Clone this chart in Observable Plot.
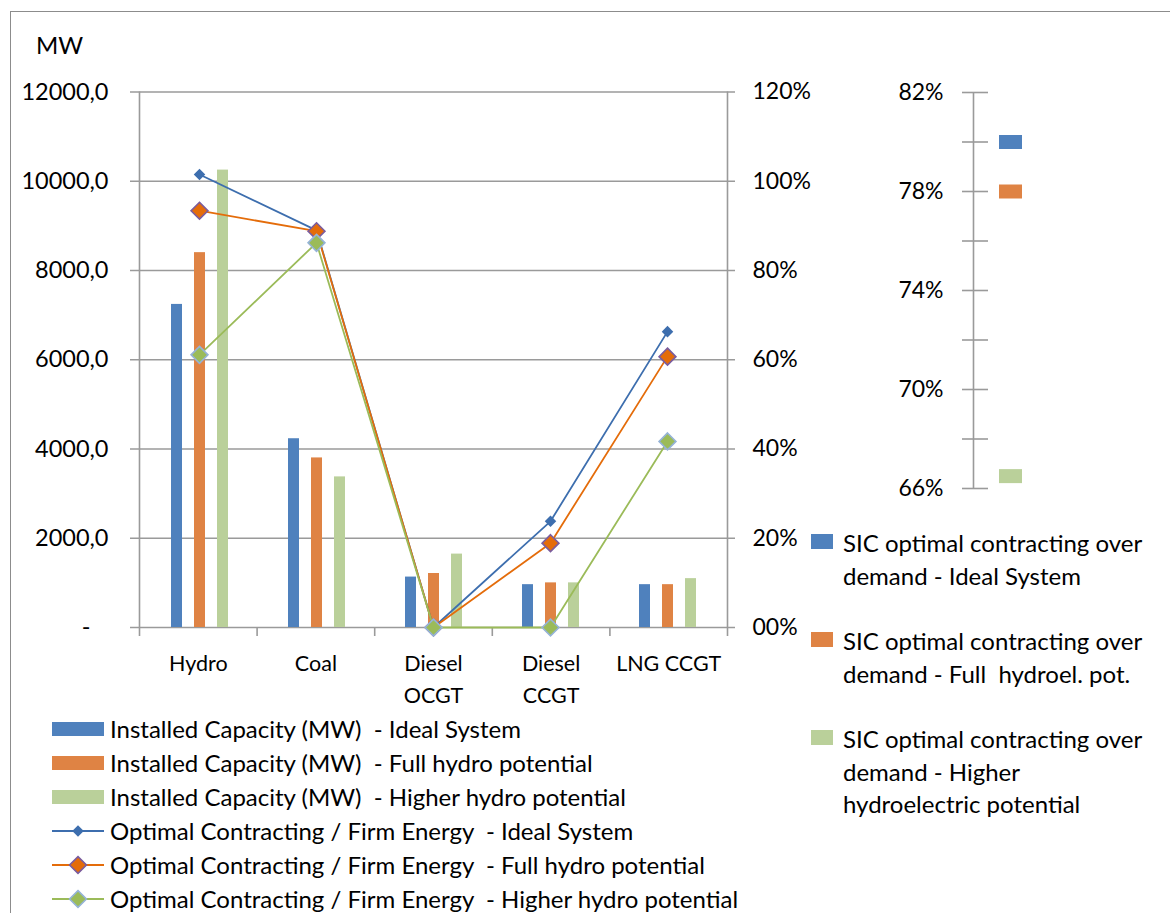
<!DOCTYPE html>
<html>
<head>
<meta charset="utf-8">
<script src="https://cdn.jsdelivr.net/npm/d3@7"></script>
<script src="https://cdn.jsdelivr.net/npm/@observablehq/plot@0.6"></script>
<style>
  body { margin: 0; background: #fff; }
  #chart { position: relative; width: 1170px; height: 913px; overflow: hidden; font-family: Lato, "Open Sans", sans-serif; color: #000; background: #fff; }
  #chart svg.layer { position: absolute; left: 0; top: 0; }
  .border { position: absolute; left: 10px; top: 11px; width: 1200px; height: 1000px; border-left: 1.5px solid #8c8c8c; border-top: 1.5px solid #8c8c8c; }
  .unit { position: absolute; left: 36px; top: 30px; font-size: 24px; }
  .legend { position: absolute; font-size: 24px; line-height: 34px; }
  .legend .row { display: flex; align-items: center; height: 34px; white-space: pre; }
  .legend svg { flex: none; margin-right: 6px; }
  .side { position: absolute; left: 811px; font-size: 24px; line-height: 32.5px; }
  .side .sw { position: absolute; left: 0; top: 7px; width: 22px; height: 15px; }
  .side .tx { position: absolute; left: 32px; top: 0; width: 340px; white-space: pre; }
</style>
</head>
<body>
<div id="chart">
  <div class="border"></div>
  <div class="unit">MW</div>
</div>
<script>
// Generation technologies (x categories)
const categories = ["Hydro", "Coal", "Diesel\nOCGT", "Diesel\nCCGT", "LNG CCGT"];
const scenarios = ["Ideal System", "Full hydro potential", "Higher hydro potential"];

// Installed capacity, MW
const capacityIdeal  = [7240, 4230, 1130, 960, 960];
const capacityFull   = [8400, 3800, 1210, 1000, 960];
const capacityHigher = [10250, 3375, 1645, 1000, 1095];

// Optimal contracting / firm energy ratio
const contractIdeal  = [1.015, 0.89, 0, 0.238, 0.663];
const contractFull   = [0.934, 0.888, 0, 0.189, 0.607];
const contractHigher = [0.611, 0.862, 0, 0, 0.417];

// SIC optimal contracting over demand
const sicLabels = ["Ideal System", "Full  hydroel. pot.", "Higher\nhydroelectric potential"];
const sicValues = [0.80, 0.78, 0.665];

// Axis ticks
const mwTicks = [0, 2000, 4000, 6000, 8000, 10000, 12000];
const pctTicks = [0, 0.2, 0.4, 0.6, 0.8, 1.0, 1.2];
const sicTicks = [0.66, 0.68, 0.70, 0.72, 0.74, 0.76, 0.78, 0.80, 0.82];
const sicLabelTicks = [0.66, 0.70, 0.74, 0.78, 0.82];

// Colours
const barColors = ["#4f81bd", "#df8344", "#bad09a"];
const lineColors = ["#3d6eae", "#e46c0a", "#9bbb59"];
const markFill = ["#3d6eae", "#e46c0a", "#9bbb59"];
const markStroke = ["none", "#7a5c9e", "#95b3d7"];
const markR = [5.2, 7.6, 7.6];
const gridColor = "#9a9a9a";

const capacity = [capacityIdeal, capacityFull, capacityHigher];
const contract = [contractIdeal, contractFull, contractHigher];

const capacityRows = scenarios.flatMap((s, k) =>
  categories.map((c, i) => ({category: c, scenario: s, value: capacity[k][i]})));
const contractRows = scenarios.flatMap((s, k) =>
  categories.map((c, i) => ({category: c, scenario: s, k, value: contract[k][i]})));
const sicRows = sicValues.map((v, k) => ({k, value: v}));

const W = 1170, H = 700;
const frame = {width: W, height: H, marginLeft: 139, marginRight: W - 727, marginTop: 91.5, marginBottom: H - 627};
const font = "Lato, 'Open Sans', sans-serif";
const layerStyle = {background: "transparent", overflow: "visible", fontFamily: font, color: "#000", maxWidth: "none"};
const chart = document.getElementById("chart");

function addLayer(svg) {
  svg.classList.add("layer");
  chart.appendChild(svg);
}

const mwFormat = d => d === 0 ? "-\u00a0\u00a0\u00a0" : d3.format(".1f")(d).replace(".", ",");
const pctFormat = d => d === 0 ? "00%" : `${Math.round(d * 100)}%`;

// Base layer: gridlines with tick stubs, left MW axis, category axis
addLayer(Plot.plot({
  ...frame,
  style: layerStyle,
  x: {domain: [0, categories.length], axis: null},
  y: {domain: [0, 12000], axis: null},
  marks: [
    Plot.ruleY(mwTicks, {stroke: gridColor, strokeWidth: 1.6, insetLeft: -9, insetRight: -8}),
    Plot.ruleX([0, categories.length], {stroke: gridColor, strokeWidth: 1.6}),
    Plot.ruleX(d3.range(categories.length + 1), {y1: 0, y2: 0, insetBottom: -9, stroke: gridColor, strokeWidth: 1.6}),
    Plot.text(mwTicks, {y: d => d, frameAnchor: "left", textAnchor: "end", dx: -31, text: mwFormat, fontSize: 23.5, fill: "#000"}),
    Plot.text(categories, {
      x: (d, i) => i + 0.5, frameAnchor: "bottom", text: d => d,
      lineAnchor: "top", dy: 21, fontSize: 21.5, lineHeight: 1.48, fill: "#000"
    })
  ]
}));

// Bars: installed capacity grouped by technology
addLayer(Plot.plot({
  ...frame,
  style: layerStyle,
  fx: {domain: categories, padding: 0, axis: null},
  x: {domain: scenarios, paddingInner: 0.505, paddingOuter: 1.28, axis: null},
  y: {domain: [0, 12000], axis: null},
  color: {domain: scenarios, range: barColors},
  marks: [
    Plot.barY(capacityRows, {fx: "category", x: "scenario", y: "value", fill: "scenario"})
  ]
}));

// Lines: contracting / firm energy on the right percent axis
addLayer(Plot.plot({
  ...frame,
  style: layerStyle,
  x: {type: "point", domain: categories, padding: 0.5, axis: null},
  y: {domain: [0, 1.2], axis: null},
  marks: [
    Plot.text(pctTicks, {y: d => d, frameAnchor: "right", textAnchor: "start", dx: 25, text: pctFormat, fontSize: 23, fill: "#000"}),
    ...scenarios.flatMap((s, k) => {
      const rows = contractRows.filter(d => d.k === k);
      return [
        Plot.line(rows, {x: "category", y: "value", stroke: lineColors[k], strokeWidth: 1.8}),
        Plot.dot(rows, {x: "category", y: "value", symbol: "diamond2", r: markR[k],
          fill: markFill[k], stroke: markStroke[k], strokeWidth: 1.6})
      ];
    })
  ]
}));

// Side panel: SIC optimal contracting over demand
const rectSymbol = {draw(ctx) { ctx.rect(-11.5, -7, 23, 14); }};
addLayer(Plot.plot({
  width: W, height: H,
  marginLeft: 973, marginRight: W - 1047, marginTop: 92, marginBottom: H - 488,
  style: layerStyle,
  x: {domain: [0, 1], axis: null},
  y: {domain: [0.66, 0.82], axis: null},
  marks: [
    Plot.ruleX([0], {stroke: gridColor, strokeWidth: 1.6}),
    Plot.ruleY(sicTicks, {x1: 0, x2: 0, insetLeft: -11, insetRight: -15, stroke: gridColor, strokeWidth: 1.6}),
    Plot.text(sicLabelTicks, {y: d => d, frameAnchor: "left", textAnchor: "end", dx: -30, text: d3.format(".0%"), fontSize: 23, fill: "#000"}),
    Plot.dot(sicRows, {y: "value", symbol: rectSymbol, fill: d => barColors[d.k], stroke: null})
  ]
}));

// Bottom legend
const legend = document.createElement("div");
legend.className = "legend";
legend.style.left = "52px";
legend.style.top = "712px";
const NS = "http://www.w3.org/2000/svg";
function swatch(k, kind) {
  const s = document.createElementNS(NS, "svg");
  s.setAttribute("width", 52); s.setAttribute("height", 20);
  if (kind === "bar") {
    s.innerHTML = `<rect x="0" y="3" width="52" height="14" fill="${barColors[k]}"/>`;
  } else {
    const r = markR[k] * 1.11;
    s.innerHTML = `<line x1="0" x2="52" y1="10" y2="10" stroke="${lineColors[k]}" stroke-width="1.8"/>` +
      `<path d="M26,${10 - r}L${26 + r},10L26,${10 + r}L${26 - r},10Z" fill="${markFill[k]}" stroke="${markStroke[k]}" stroke-width="1.6"/>`;
  }
  return s;
}
scenarios.forEach((s, k) => {
  const row = document.createElement("div"); row.className = "row";
  row.appendChild(swatch(k, "bar"));
  row.appendChild(document.createTextNode(`Installed Capacity (MW)  - ${s}`));
  legend.appendChild(row);
});
scenarios.forEach((s, k) => {
  const row = document.createElement("div"); row.className = "row";
  row.appendChild(swatch(k, "line"));
  row.appendChild(document.createTextNode(`Optimal Contracting / Firm Energy  - ${s}`));
  legend.appendChild(row);
});
chart.appendChild(legend);

// Side legend
const sideTops = [527, 625, 723];
sicLabels.forEach((label, k) => {
  const item = document.createElement("div");
  item.className = "side";
  item.style.top = sideTops[k] + "px";
  item.innerHTML = `<div class="sw" style="background:${barColors[k]}"></div>` +
    `<div class="tx">SIC optimal contracting over\ndemand - ${label}</div>`;
  chart.appendChild(item);
});
</script>
</body>
</html>
